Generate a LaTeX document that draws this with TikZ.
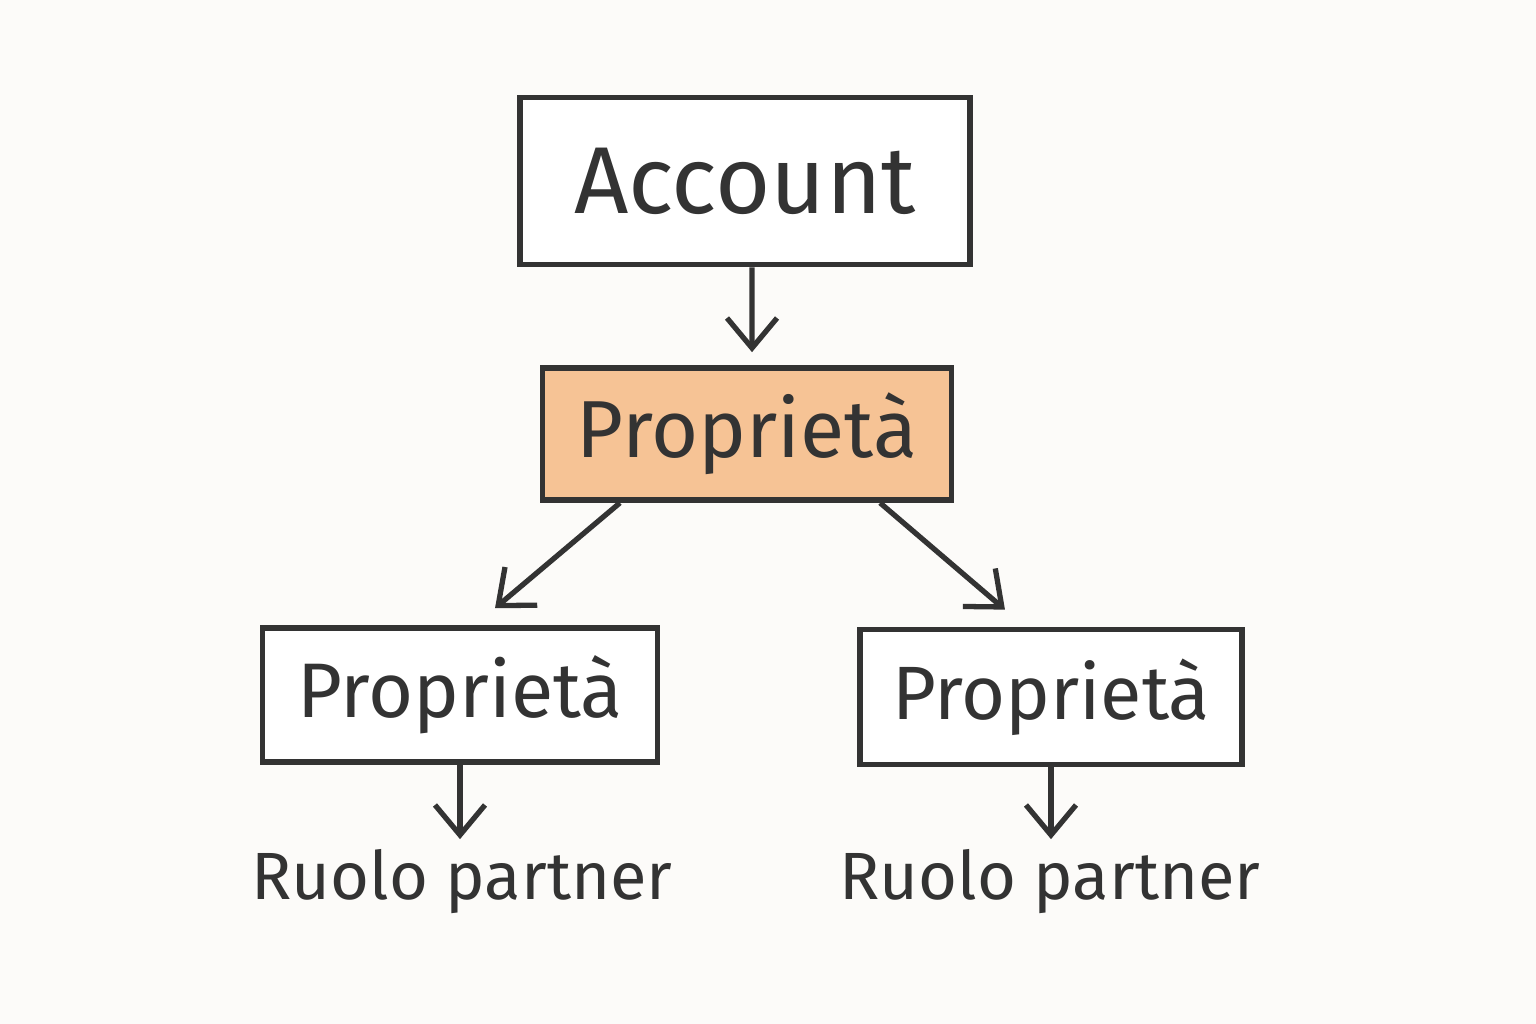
\documentclass[tikz,border=0pt]{standalone}
\usepackage{fontspec}
\setmainfont{Fira Sans}
\usepackage{tikz}
\usetikzlibrary{arrows.meta,positioning}
\definecolor{paper}{HTML}{FCFBF9}
\definecolor{pencil}{HTML}{333333}
\definecolor{propfill}{HTML}{F6C395}
\begin{document}
\begin{tikzpicture}[
  x=0.01cm, y=-0.01cm,
  box/.style={draw=pencil, line width=1.6pt, align=center, inner sep=0pt, fill=white, text=pencil},
  hl/.style={box, fill=propfill},
  lab/.style={inner sep=0pt, text=pencil, font=\fontsize{19}{21}\selectfont},
  arr/.style={-{Straight Barb[length=3mm, width=5mm]}, line width=1.5pt, draw=pencil}]
  \fill[paper] (0,0) rectangle (1536,1024);
  \useasboundingbox (0,0) rectangle (1536,1024);
  % top: account
  \node[box, minimum width=4.5cm, minimum height=1.67cm, font=\fontsize{27}{29}\selectfont] (acc) at (745,181) {Account};
  % middle: highlighted property
  \node[hl, minimum width=4.09cm, minimum height=1.32cm, font=\fontsize{23}{25}\selectfont] (prop) at (747,434) {Proprietà};
  % bottom: two properties with partner roles
  \node[box, minimum width=3.95cm, minimum height=1.34cm, font=\fontsize{22}{24}\selectfont] (pl) at (460,695) {Proprietà};
  \node[box, minimum width=3.82cm, minimum height=1.35cm, font=\fontsize{21.5}{24}\selectfont] (pr) at (1051,697) {Proprietà};
  \node[lab] (rl) at (462,882) {Ruolo partner};
  \node[lab] (rr) at (1050,882) {Ruolo partner};
  % connectors
  \draw[arr, shorten >=0.13cm] ([xshift=0.07cm]acc.south) -- ([xshift=0.05cm]prop.north);
  \draw[arr] ([xshift=-1.27cm]prop.south) -- ([xshift=0.35cm, yshift=0.17cm]pl.north);
  \draw[arr] ([xshift=1.33cm]prop.south) -- ([xshift=-0.46cm, yshift=0.17cm]pr.north);
  \draw[arr, shorten >=0.1cm] (pl.south) -- (rl.north -| pl.south);
  \draw[arr, shorten >=0.1cm] (pr.south) -- (rr.north -| pr.south);
\end{tikzpicture}
\end{document}
